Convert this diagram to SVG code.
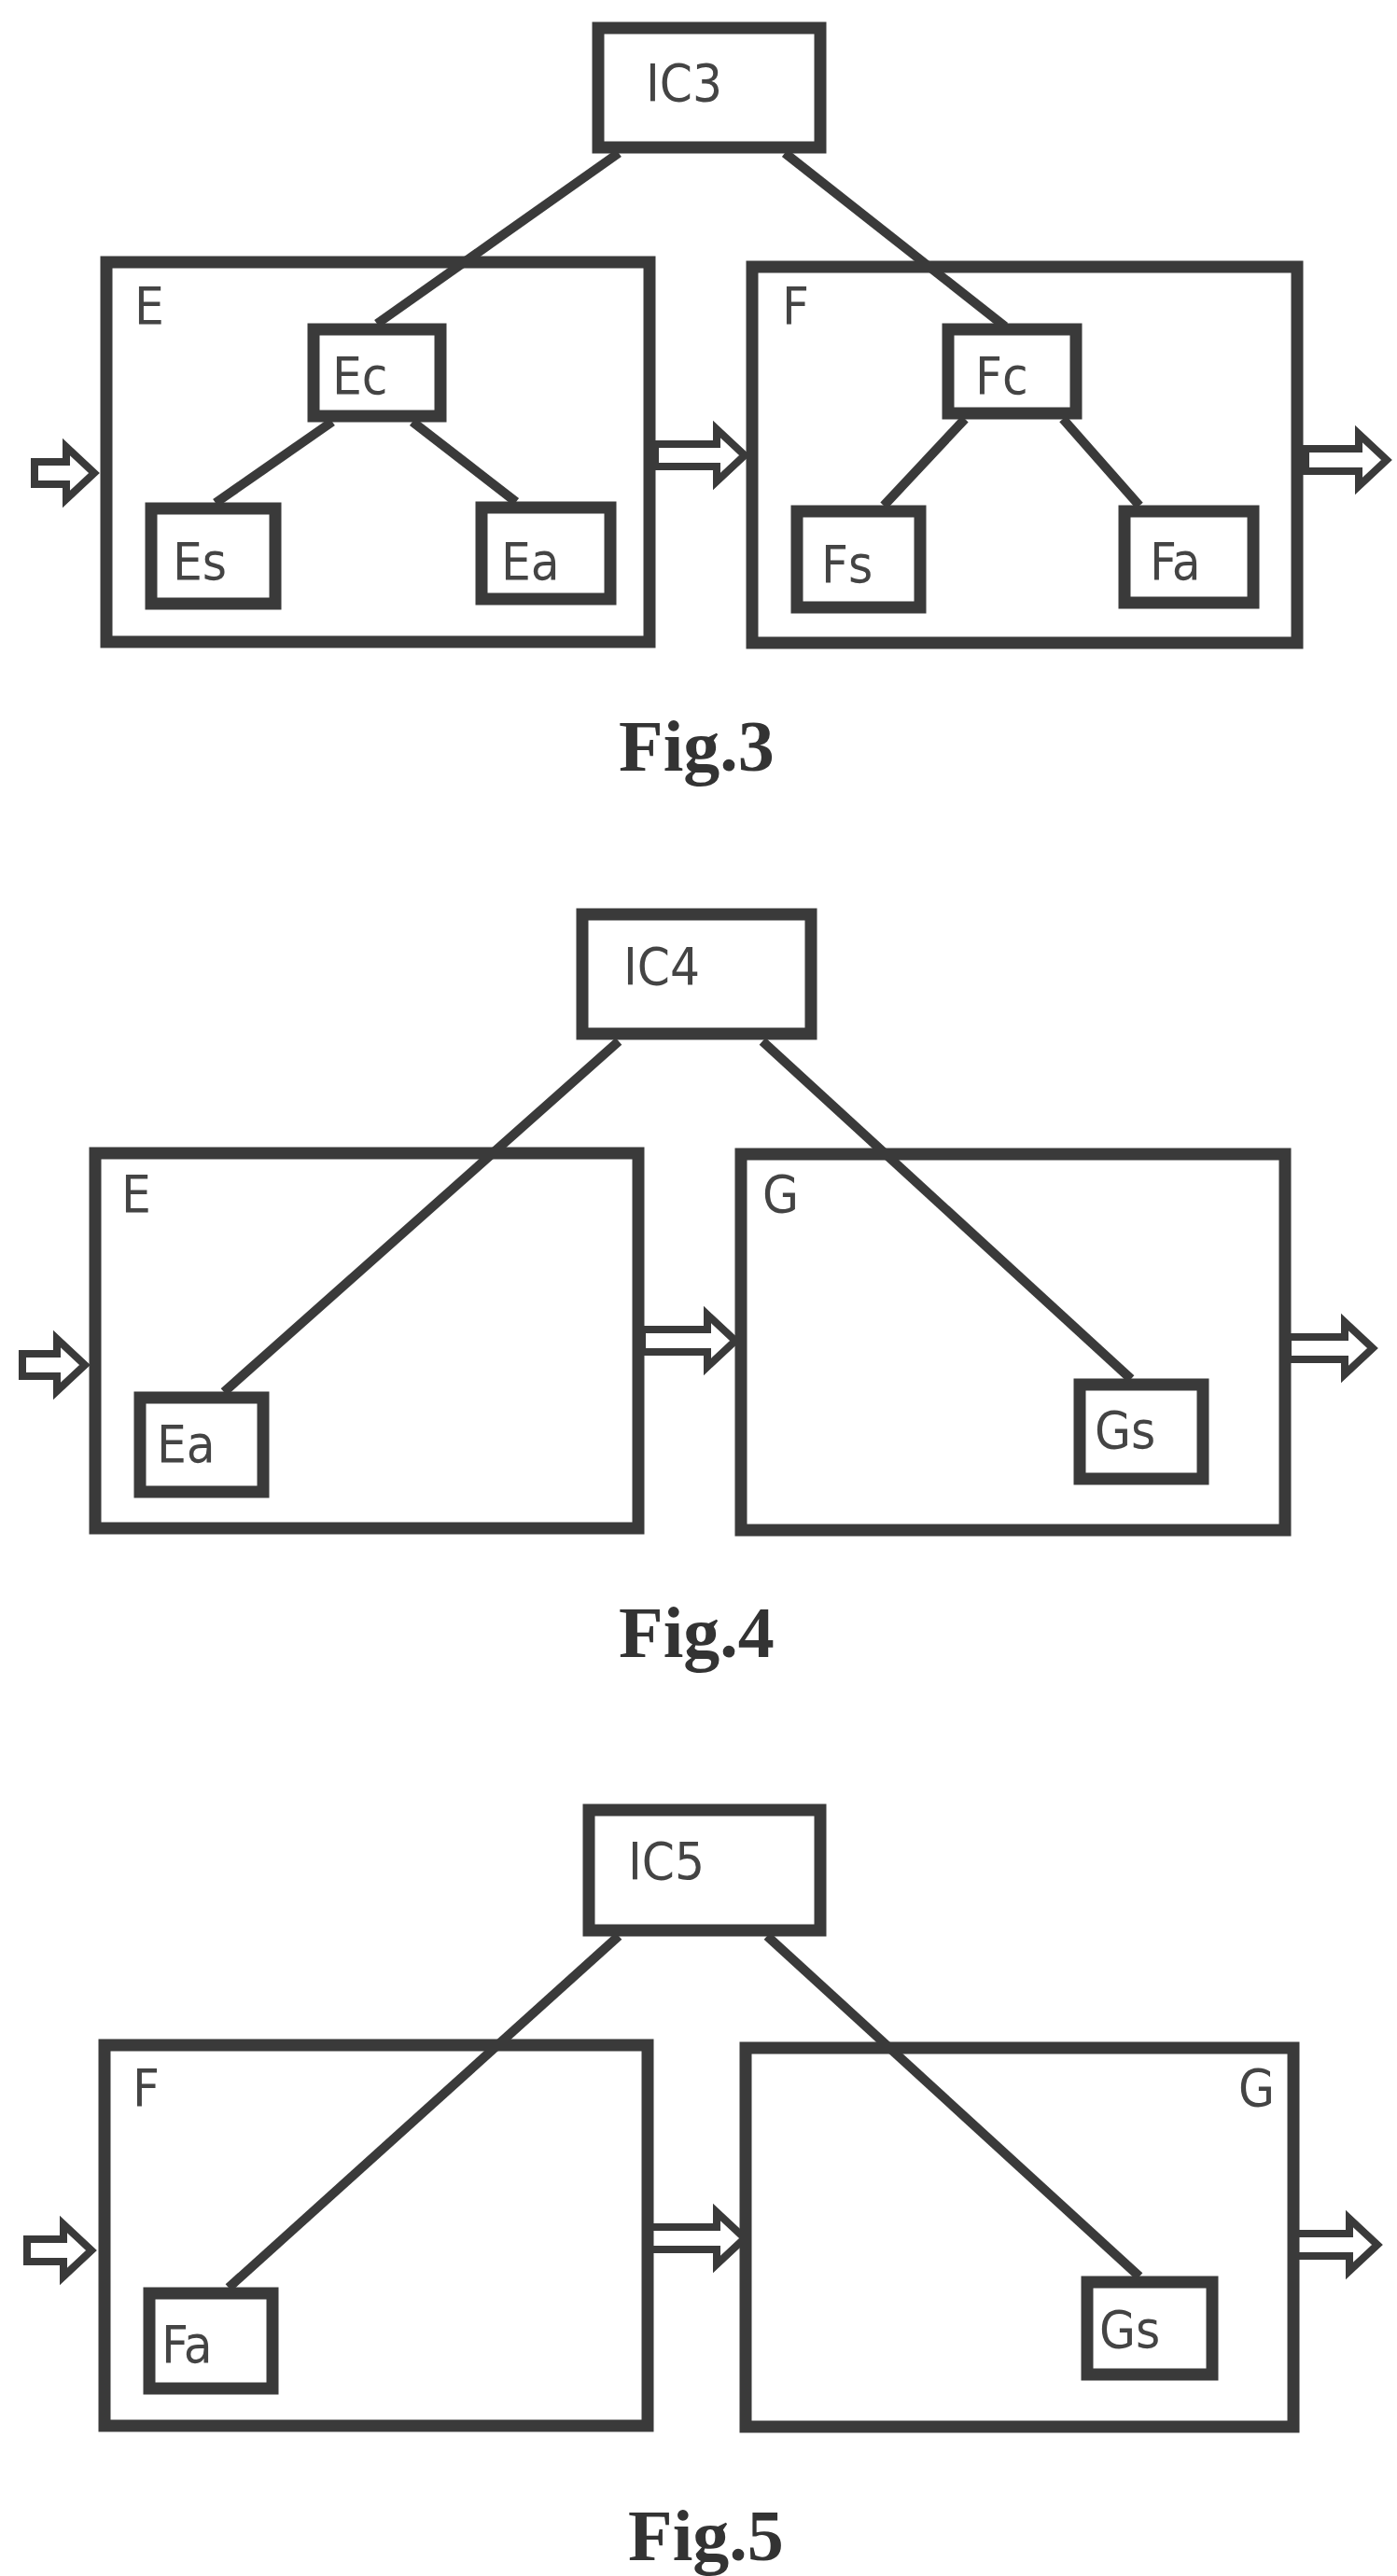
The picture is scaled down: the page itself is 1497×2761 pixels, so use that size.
<svg xmlns="http://www.w3.org/2000/svg" width="1497" height="2761" viewBox="0 0 1497 2761">
<style>
.b{fill:none;stroke:#3a3a3a;stroke-width:13}
.c{stroke:#3a3a3a;stroke-width:10;fill:none}
.a{fill:#fff;stroke:#3a3a3a;stroke-width:8;stroke-linejoin:miter}
.t{font-family:"DejaVu Sans Condensed","DejaVu Sans",sans-serif;font-size:56px;fill:#444}
.cap{font-family:"Liberation Serif",serif;font-weight:bold;font-size:78px;fill:#333}
</style>
<rect width="1497" height="2761" fill="#fff"/>
<g id="connectors">
<line class="c" x1="663" y1="164" x2="404" y2="347"/>
<line class="c" x1="841" y1="164" x2="1077" y2="350"/>
<line class="c" x1="356" y1="452" x2="231" y2="539"/>
<line class="c" x1="442" y1="452" x2="553" y2="538"/>
<line class="c" x1="1034" y1="449" x2="947" y2="542"/>
<line class="c" x1="1139" y1="449" x2="1221" y2="542"/>
<line class="c" x1="663" y1="1116" x2="240" y2="1492"/>
<line class="c" x1="817" y1="1116" x2="1212" y2="1478"/>
<line class="c" x1="663" y1="2075" x2="245" y2="2452"/>
<line class="c" x1="822" y1="2075" x2="1221" y2="2440"/>
<path class="a" d="M37,495 H71 V479 L101,507 L71,535 V519 H37 Z"/>
<path class="a" d="M702,476 H768 V460 L798,488 L768,516 V500 H702 Z"/>
<path class="a" d="M1399,481 H1456 V465 L1486,493 L1456,521 V505 H1399 Z"/>
<path class="a" d="M24,1451 H61 V1435 L91,1463 L61,1491 V1475 H24 Z"/>
<path class="a" d="M688,1425 H758 V1409 L788,1437 L758,1465 V1449 H688 Z"/>
<path class="a" d="M1380,1433 H1441 V1417 L1471,1445 L1441,1473 V1457 H1380 Z"/>
<path class="a" d="M29,2400 H68 V2384 L98,2412 L68,2440 V2424 H29 Z"/>
<path class="a" d="M692,2387 H768 V2371 L798,2399 L768,2427 V2411 H692 Z"/>
<path class="a" d="M1385,2394 H1446 V2378 L1476,2406 L1446,2434 V2418 H1385 Z"/>
</g>
<!-- Fig 3 -->
<g id="IC3"><rect class="b" x="641" y="30" width="238" height="128" fill="#fff"/><text class="t" x="692" y="108">IC3</text></g>
<g id="E3"><rect class="b" x="114" y="281" width="582" height="407"/><text class="t" x="144" y="347">E</text></g>
<g id="F3"><rect class="b" x="806" y="286" width="584" height="403"/><text class="t" x="838" y="347">F</text></g>
<g id="Ec3"><rect class="b" x="336" y="353" width="136" height="93" fill="#fff"/><text class="t" x="356" y="422">Ec</text></g>
<g id="Es3"><rect class="b" x="162" y="545" width="133" height="102" fill="#fff"/><text class="t" x="185" y="621">Es</text></g>
<g id="Ea3"><rect class="b" x="516" y="544" width="138" height="98" fill="#fff"/><text class="t" x="537" y="621">Ea</text></g>
<g id="Fc3"><rect class="b" x="1016" y="353" width="137" height="90" fill="#fff"/><text class="t" x="1045" y="422">Fc</text></g>
<g id="Fs3"><rect class="b" x="854" y="548" width="132" height="103" fill="#fff"/><text class="t" x="880" y="624">Fs</text></g>
<g id="Fa3"><rect class="b" x="1205" y="548" width="138" height="98" fill="#fff"/><text class="t" x="1232" y="621">Fa</text></g>
<text class="cap" x="663" y="826">Fig.3</text>
<!-- Fig 4 -->
<g id="IC4"><rect class="b" x="624" y="980" width="245" height="128" fill="#fff"/><text class="t" x="668" y="1055">IC4</text></g>
<g id="E4"><rect class="b" x="102" y="1236" width="582" height="402"/><text class="t" x="130" y="1299">E</text></g>
<g id="G4"><rect class="b" x="794" y="1237" width="583" height="403"/><text class="t" x="817" y="1299">G</text></g>
<g id="Ea4"><rect class="b" x="150" y="1498" width="132" height="101" fill="#fff"/><text class="t" x="168" y="1567">Ea</text></g>
<g id="Gs4"><rect class="b" x="1157" y="1484" width="132" height="101" fill="#fff"/><text class="t" x="1173" y="1552">Gs</text></g>
<text class="cap" x="663" y="1776">Fig.4</text>
<!-- Fig 5 -->
<g id="IC5"><rect class="b" x="631" y="1940" width="248" height="129" fill="#fff"/><text class="t" x="673" y="2014">IC5</text></g>
<g id="F5"><rect class="b" x="112" y="2192" width="582" height="408"/><text class="t" x="142" y="2257">F</text></g>
<g id="G5"><rect class="b" x="799" y="2195" width="587" height="406"/><text class="t" x="1327" y="2257">G</text></g>
<g id="Fa5"><rect class="b" x="160" y="2458" width="132" height="102" fill="#fff"/><text class="t" x="173" y="2532">Fa</text></g>
<g id="Gs5"><rect class="b" x="1165" y="2446" width="134" height="99" fill="#fff"/><text class="t" x="1178" y="2516">Gs</text></g>
<text class="cap" x="673" y="2744">Fig.5</text>
</svg>
